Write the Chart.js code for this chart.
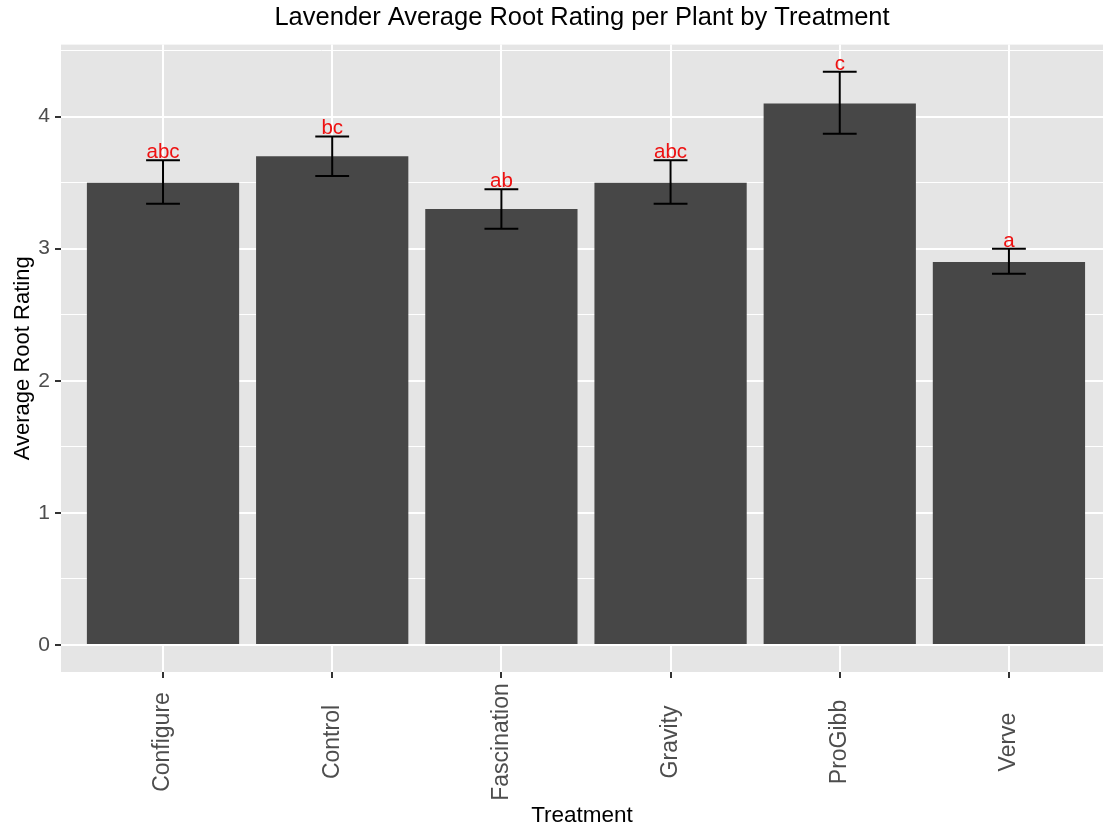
<!DOCTYPE html>
<html>
<head>
<meta charset="utf-8">
<title>Lavender Average Root Rating</title>
<script src="https://cdn.jsdelivr.net/npm/chart.js"></script>
<style>
    html, body { margin: 0; padding: 0; background: #fff; }
    #wrap { width: 1103px; height: 829px; position: relative; }
</style>
</head>
<body>
<div id="wrap"><canvas id="rootChart"></canvas></div>
<script>
// data
const treatments = ['Configure', 'Control', 'Fascination', 'Gravity', 'ProGibb', 'Verve'];
const meanRating = [3.5, 3.7, 3.3, 3.5, 4.1, 2.9];
const errLow = [3.34, 3.55, 3.15, 3.34, 3.87, 2.81];
const errHigh = [3.67, 3.85, 3.45, 3.67, 4.34, 3.0];
const groupLetters = ['abc', 'bc', 'ab', 'abc', 'c', 'a'];
const yTicks = [0, 1, 2, 3, 4];
const yMinorTicks = [0.5, 1.5, 2.5, 3.5, 4.5];

const FONT = '"Liberation Sans", Arial, sans-serif';
const PANEL_BG = '#e5e5e5';
const BAR_FILL = '#474747';

// grey panel behind the grid (ggplot look)
const panelBackground = {
    id: 'panelBackground',
    beforeDraw(chart) {
        const { ctx, chartArea: a } = chart;
        ctx.save();
        ctx.fillStyle = PANEL_BG;
        ctx.fillRect(a.left, a.top, a.right - a.left, a.bottom - a.top);
        ctx.restore();
    }
};

// error bars + significance letters
const errorBars = {
    id: 'errorBars',
    afterDatasetsDraw(chart) {
        const { ctx } = chart;
        const x = chart.scales.x, y = chart.scales.y;
        const half = x.getPixelForValue(1.1) - x.getPixelForValue(1);
        ctx.save();
        ctx.strokeStyle = '#000';
        ctx.lineWidth = 2;
        treatments.forEach((t, i) => {
            const cx = x.getPixelForValue(i + 1);
            const lo = y.getPixelForValue(errLow[i]);
            const hi = y.getPixelForValue(errHigh[i]);
            ctx.beginPath();
            ctx.moveTo(cx, lo); ctx.lineTo(cx, hi);
            ctx.moveTo(cx - half, lo); ctx.lineTo(cx + half, lo);
            ctx.moveTo(cx - half, hi); ctx.lineTo(cx + half, hi);
            ctx.stroke();
        });
        ctx.fillStyle = '#ee1111';
        ctx.font = '20.5px ' + FONT;
        ctx.textAlign = 'center';
        ctx.textBaseline = 'alphabetic';
        treatments.forEach((t, i) => {
            ctx.fillText(groupLetters[i], x.getPixelForValue(i + 1), y.getPixelForValue(errHigh[i]) - 2);
        });
        ctx.restore();
    }
};

// rotated x labels, centred like ggplot's angle = 90
const xLabels = {
    id: 'xLabels',
    afterDraw(chart) {
        const { ctx } = chart;
        const x = chart.scales.x;
        ctx.save();
        ctx.fillStyle = '#4d4d4d';
        ctx.font = '23px ' + FONT;
        ctx.textAlign = 'center';
        ctx.textBaseline = 'middle';
        treatments.forEach((t, i) => {
            ctx.save();
            ctx.translate(x.getPixelForValue(i + 1), 742);
            ctx.rotate(-Math.PI / 2);
            ctx.fillText(t, 0, 0);
            ctx.restore();
        });
        ctx.restore();
    }
};

new Chart(document.getElementById('rootChart'), {
    type: 'bar',
    data: {
        datasets: [{
            label: 'Average Root Rating',
            data: treatments.map((t, i) => ({ x: i + 1, y: meanRating[i] })),
            backgroundColor: BAR_FILL,
            borderWidth: 0,
            barPercentage: 0.9,
            categoryPercentage: 1.0
        }]
    },
    options: {
        responsive: true,
        maintainAspectRatio: false,
        animation: false,
        layout: { padding: { top: 0, right: 0, bottom: 0, left: 0 } },
        plugins: {
            legend: { display: false },
            tooltip: { enabled: false },
            title: {
                display: true,
                fullSize: false,
                text: 'Lavender Average Root Rating per Plant by Treatment',
                color: '#000',
                font: { family: FONT, size: 25.5, weight: 'normal' },
                padding: { top: 3, bottom: 11 }
            }
        },
        scales: {
            x: {
                type: 'linear',
                offset: false,
                min: 0.397,
                max: 6.556,
                afterBuildTicks: s => { s.ticks = treatments.map((t, i) => ({ value: i + 1 })); },
                afterFit: s => { s.height = 157; },
                ticks: { display: false, autoSkip: false },
                grid: { offset: false, color: '#fff', lineWidth: 2, tickColor: '#333', tickLength: 6 },
                border: { display: false },
                title: {
                    display: true,
                    text: 'Treatment',
                    color: '#000',
                    font: { family: FONT, size: 22.5 },
                    padding: { top: 0, bottom: 0 }
                }
            },
            y: {
                min: -0.205,
                max: 4.545,
                afterBuildTicks: s => {
                    s.ticks = yTicks.concat(yMinorTicks).sort((a, b) => a - b).map(v => ({ value: v }));
                },
                afterFit: s => { s.width = 61; },
                ticks: {
                    autoSkip: false,
                    color: '#4d4d4d',
                    font: { family: FONT, size: 21 },
                    padding: 5,
                    callback: v => yTicks.includes(v) ? String(v) : ''
                },
                grid: {
                    color: '#fff',
                    lineWidth: c => yTicks.includes(c.tick.value) ? 2 : 1,
                    tickColor: c => yTicks.includes(c.tick.value) ? '#333' : 'rgba(0,0,0,0)',
                    tickLength: 6
                },
                border: { display: false },
                title: {
                    display: true,
                    text: 'Average Root Rating',
                    color: '#000',
                    font: { family: FONT, size: 22 },
                    padding: { top: 10, bottom: 0 }
                }
            }
        }
    },
    plugins: [panelBackground, errorBars, xLabels]
});
</script>
</body>
</html>
